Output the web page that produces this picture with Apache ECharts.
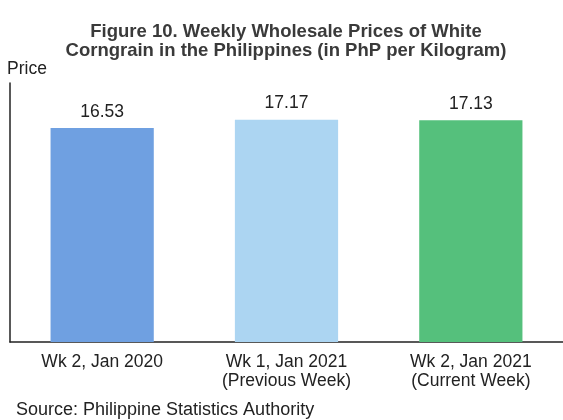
<!DOCTYPE html>
<html>
<head>
<meta charset="utf-8">
<script src="https://cdn.jsdelivr.net/npm/echarts@6/dist/echarts.min.js"></script>
<style>
  html, body { margin: 0; padding: 0; background: #ffffff; }
  #chart { width: 563px; height: 420px; }
</style>
</head>
<body>
<div id="chart"></div>
<script>
// data
const categories = [
  "Wk 2, Jan 2020",
  "Wk 1, Jan 2021\n(Previous Week)",
  "Wk 2, Jan 2021\n(Current Week)"
];
const prices = [16.53, 17.17, 17.13];
const barColors = ["#6fa0e1", "#acd5f2", "#55c07c"];

const chart = echarts.init(document.getElementById("chart"));

chart.setOption({
  animation: false,
  textStyle: { fontFamily: "Liberation Sans, Arial, sans-serif", color: "#222" },
  title: [
    {
      text: "Figure 10. Weekly Wholesale Prices of White\nCorngrain in the Philippines (in PhP per Kilogram)",
      left: 286,
      top: 22,
      padding: 0,
      textAlign: "center",
      textStyle: { fontSize: 18.5, fontWeight: "bold", lineHeight: 19, color: "#3a3a3a" }
    },
    {
      text: "Source: Philippine Statistics Authority",
      left: 16,
      top: 401,
      padding: 0,
      textStyle: { fontSize: 18, fontWeight: "normal", color: "#222" }
    }
  ],
  grid: { left: 10, right: 0, top: 83, bottom: 78 },
  xAxis: {
    type: "category",
    data: categories,
    axisLine: { lineStyle: { color: "#222", width: 1.5 } },
    axisTick: { show: false },
    axisLabel: { fontSize: 17.5, lineHeight: 19, margin: 11, color: "#222" }
  },
  yAxis: {
    type: "value",
    min: 0,
    max: 20,
    name: "Price",
    nameLocation: "end",
    nameGap: 5,
    nameTextStyle: { fontSize: 17.5, color: "#222", align: "left", padding: [0, 0, 0, -3] },
    axisLine: { show: true, lineStyle: { color: "#222", width: 1.5 } },
    axisTick: { show: false },
    axisLabel: { show: false },
    splitLine: { show: false }
  },
  series: [
    {
      type: "bar",
      barWidth: "56%",
      data: prices.map((v, i) => ({ value: v, itemStyle: { color: barColors[i] } })),
      label: {
        show: true,
        position: "top",
        distance: 7,
        fontSize: 17.5,
        color: "#222",
        formatter: p => p.value.toFixed(2)
      }
    }
  ]
});
</script>
</body>
</html>
